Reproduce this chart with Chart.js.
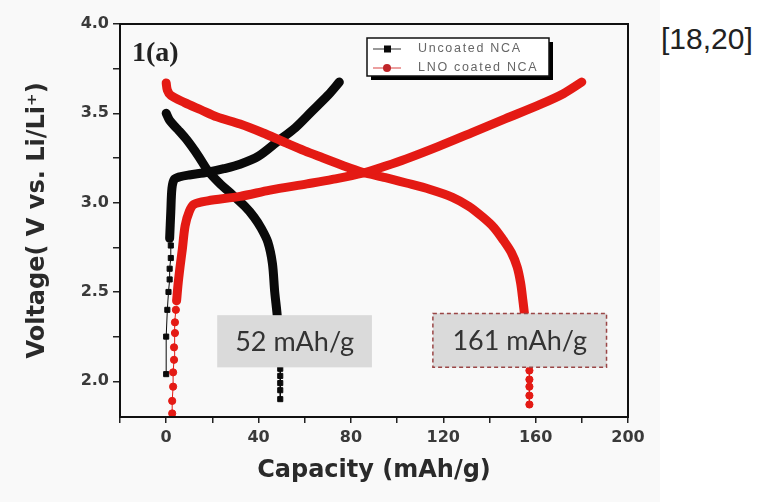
<!DOCTYPE html>
<html lang="en">
<head>
<meta charset="UTF-8" />
<title>NCA capacity</title>
<script src="https://cdn.jsdelivr.net/npm/chart.js"></script>
<style>
  body { margin: 0; background: #fff; }
  #wrap { position: relative; width: 762px; height: 502px; }
  #chart { position: absolute; left: 0; top: 0; }
  #ref { position: absolute; left: 661px; top: 24px; font: 30px/30px "Liberation Sans", Arial, sans-serif; color: #222; }
</style>
</head>
<body>
<div id="wrap">
  <canvas id="chart" width="660" height="502"></canvas>
  <div id="ref">[18,20]</div>
</div>

<script>
// series names
const seriesNames = ['Uncoated NCA', 'LNO coated NCA'];

// Uncoated NCA - charge (sparse squares at start, then dense curve)
const uncChargeTailCap = [0, 0, 0.5, 1, 1.5, 1.5, 2, 2];
const uncChargeTailV   = [2.04, 2.25, 2.40, 2.50, 2.57, 2.63, 2.69, 2.76];
const uncChargeCap = [1.5, 2, 2.5, 3.5, 6, 10, 18, 25, 32, 40, 48, 56, 63, 70, 75];
const uncChargeV   = [2.80, 2.95, 3.08, 3.13, 3.145, 3.155, 3.17, 3.19, 3.215, 3.26, 3.34, 3.42, 3.51, 3.60, 3.675];

// Uncoated NCA - discharge
const uncDischargeCap = [0, 1.5, 5, 9, 14, 18, 23, 29, 34, 38, 41, 44, 46, 47, 48, 48.6, 49.1];
const uncDischargeV   = [3.50, 3.46, 3.41, 3.35, 3.26, 3.18, 3.11, 3.04, 2.98, 2.92, 2.86, 2.78, 2.66, 2.50, 2.38, 2.27, 2.14];
const uncDischargeTailCap = [49.4, 49.4, 49.4, 49.4, 49.4];
const uncDischargeTailV   = [2.07, 2.03, 1.99, 1.95, 1.90];

// LNO coated NCA - charge
const lnoChargeTailCap = [2.6, 2.6, 3, 3, 3.4, 3.4, 3.8, 3.8, 4.2];
const lnoChargeTailV   = [1.82, 1.89, 1.97, 2.05, 2.12, 2.19, 2.27, 2.33, 2.40];
const lnoChargeCap = [4.5, 5.2, 6, 7, 8.2, 10, 12, 18, 32, 45, 61, 72, 85, 95, 104, 118, 133, 147, 162, 172, 180];
const lnoChargeV   = [2.45, 2.55, 2.64, 2.74, 2.87, 2.95, 2.99, 3.01, 3.035, 3.07, 3.105, 3.13, 3.165, 3.205, 3.245, 3.315, 3.395, 3.47, 3.55, 3.61, 3.675];

// LNO coated NCA - discharge
const lnoDischargeCap = [0, 0.5, 2, 8, 15, 22, 32, 42, 50, 60, 68, 77, 85, 95, 104, 114, 124, 131, 137, 142, 146, 149.5, 152, 153.5, 154.5, 155.3, 156, 156.6];
const lnoDischargeV   = [3.67, 3.63, 3.60, 3.56, 3.52, 3.48, 3.44, 3.39, 3.345, 3.29, 3.25, 3.205, 3.17, 3.14, 3.11, 3.075, 3.03, 2.98, 2.92, 2.86, 2.79, 2.72, 2.64, 2.55, 2.45, 2.36, 2.25, 2.14];
const lnoDischargeTailCap = [157.3, 157.3, 157.3, 157.3, 157.3];
const lnoDischargeTailV   = [2.06, 2.01, 1.97, 1.92, 1.87];

// capacity call-outs
const capacityLabels = ['52 mAh/g', '161 mAh/g'];

const BLACK = '#0a0a0a';
const RED = '#e41a14';

function pts(xs, ys) { return xs.map((v, i) => ({ x: v, y: ys[i] })); }

function curve(xs, ys, color, order) {
  return { data: pts(xs, ys), showLine: true, borderColor: color, borderWidth: 9,
    borderCapStyle: 'round', borderJoinStyle: 'round', tension: 0.3,
    pointRadius: 0, order: order };
}
function tail(xs, ys, color, style, order) {
  return { data: pts(xs, ys), showLine: true, borderColor: color, borderWidth: 1,
    pointStyle: style, pointRadius: 3.6, pointBackgroundColor: color,
    pointBorderColor: color, order: order };
}

const boxes = [
  { text: capacityLabels[0], from: 22.1, to: 89.1, top: 2.37, bottom: 2.078, dashed: false },
  { text: capacityLabels[1], from: 115.5, to: 190.7, top: 2.38, bottom: 2.078, dashed: true }
];

const decor = {
  id: 'decor',
  beforeDraw(chart) {
    const c = chart.ctx;
    c.save();
    c.fillStyle = '#f9f9f9';
    c.fillRect(0, 0, chart.width, chart.height);
    c.restore();
  },
  afterDatasetsDraw(chart) {
    const { ctx: c, chartArea: a, scales: { x, y } } = chart;
    boxes.forEach(b => {
      const x0 = x.getPixelForValue(b.from), x1 = x.getPixelForValue(b.to);
      const y0 = y.getPixelForValue(b.top), y1 = y.getPixelForValue(b.bottom);
      c.save();
      c.fillStyle = '#dadada';
      c.fillRect(x0, y0, x1 - x0, y1 - y0);
      if (b.dashed) {
        c.setLineDash([4, 3]);
        c.strokeStyle = '#9a4646';
        c.lineWidth = 1.5;
        c.strokeRect(x0, y0, x1 - x0, y1 - y0);
      }
      c.fillStyle = '#333';
      c.font = '27px Lato';
      c.textAlign = 'center';
      c.textBaseline = 'middle';
      c.fillText(b.text, (x0 + x1) / 2, (y0 + y1) / 2 + 1);
      c.restore();
    });

    // frame around plot
    c.save();
    c.strokeStyle = '#111';
    c.lineWidth = 2;
    c.strokeRect(a.left, a.top, a.right - a.left, a.bottom - a.top);

    // panel label
    c.fillStyle = '#222';
    c.font = 'bold 28px "Liberation Serif"';
    c.textBaseline = 'middle';
    c.fillText('1(a)', a.left + 12, a.top + 30);

    // legend box with shadow
    const lx = a.left + 247, ly = a.top + 14, lw = 182, lh = 38;
    c.fillStyle = '#000';
    c.fillRect(lx + 4, ly + 4, lw, lh);
    c.fillStyle = '#fff';
    c.fillRect(lx, ly, lw, lh);
    c.strokeStyle = '#111';
    c.lineWidth = 1.5;
    c.strokeRect(lx, ly, lw, lh);
    const colors = [BLACK, '#c0262a'];
    seriesNames.forEach((name, i) => {
      const yy = ly + 11 + i * 19;
      c.strokeStyle = i ? '#e06060' : '#555';
      c.lineWidth = 1.2;
      c.beginPath(); c.moveTo(lx + 6, yy); c.lineTo(lx + 34, yy); c.stroke();
      c.fillStyle = colors[i];
      if (i === 0) c.fillRect(lx + 17, yy - 3.5, 7, 7);
      else { c.beginPath(); c.arc(lx + 20, yy, 4, 0, Math.PI * 2); c.fill(); }
      c.fillStyle = '#666';
      c.font = '12.5px "Liberation Sans"';
      c.letterSpacing = '1.7px';
      c.textBaseline = 'middle';
      c.fillText(name, lx + 51, yy);
    });
    c.restore();
  }
};

const tickFont = { family: 'DejaVu Sans', weight: 'bold', size: 16 };
const titleFont = { family: 'DejaVu Sans', weight: 'bold', size: 24 };

new Chart(document.getElementById('chart'), {
  type: 'scatter',
  data: {
    datasets: [
      curve(lnoChargeCap, lnoChargeV, RED, 1),
      curve(lnoDischargeCap, lnoDischargeV, RED, 1),
      tail(lnoChargeTailCap, lnoChargeTailV, RED, 'circle', 0),
      tail(lnoDischargeTailCap, lnoDischargeTailV, RED, 'circle', 0),
      curve(uncChargeCap, uncChargeV, BLACK, 3),
      curve(uncDischargeCap, uncDischargeV, BLACK, 3),
      tail(uncChargeTailCap, uncChargeTailV, BLACK, 'rect', 2),
      tail(uncDischargeTailCap, uncDischargeTailV, BLACK, 'rect', 2)
    ]
  },
  options: {
    responsive: false,
    animation: false,
    events: [],
    layout: { padding: { top: 24, right: 32, left: 0, bottom: 0 } },
    plugins: { legend: { display: false }, tooltip: { enabled: false } },
    scales: {
      x: {
        type: 'linear', min: -20, max: 200,
        ticks: { stepSize: 20, autoSkip: false, maxRotation: 0, padding: 5, color: '#3a3a3a', font: tickFont,
          callback: v => (v >= 0 && v % 40 === 0) ? v : '' },
        grid: { drawOnChartArea: false, drawTicks: true, tickLength: 6, color: '#222', lineWidth: 1.5 },
        border: { display: false },
        title: { display: true, text: 'Capacity (mAh/g)', color: '#2a2a2a', font: titleFont, padding: { top: 0, bottom: 17 } },
        afterFit(s) { s.height = 85; }
      },
      y: {
        type: 'linear', min: 1.8, max: 4.0,
        ticks: { stepSize: 0.25, includeBounds: false, autoSkip: false, padding: 4, color: '#3a3a3a', font: tickFont,
          callback: v => Math.abs(v * 2 - Math.round(v * 2)) < 1e-6 ? v.toFixed(1) : '' },
        grid: { drawOnChartArea: false, drawTicks: true, tickLength: 7, color: '#222', lineWidth: 1.5 },
        border: { display: false },
        title: { display: true, text: 'Voltage( V vs. Li/Li\u207A)', color: '#2a2a2a',
          font: { family: 'DejaVu Sans', weight: 'bold', size: 24 }, padding: { top: 23, bottom: 0 } },
        afterFit(s) { s.width = 120; }
      }
    }
  },
  plugins: [decor]
});
</script>
</body>
</html>
